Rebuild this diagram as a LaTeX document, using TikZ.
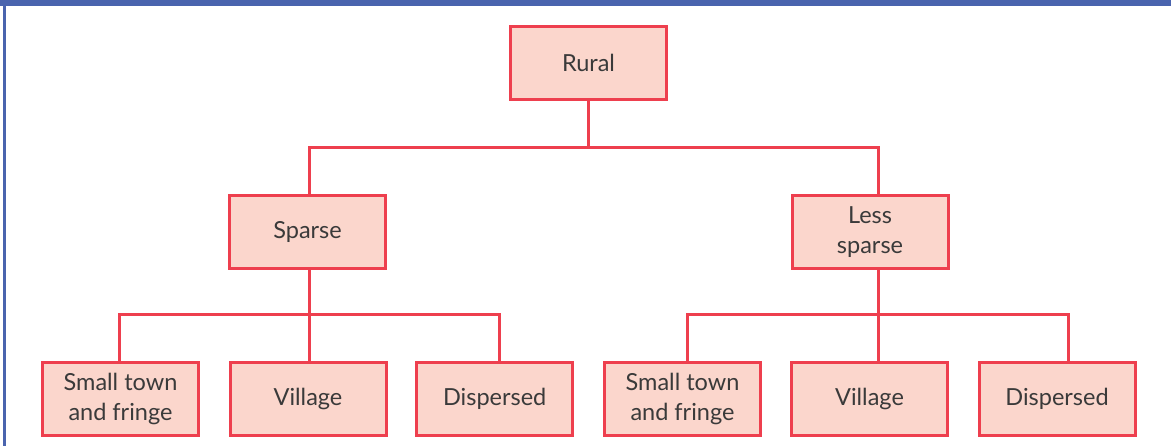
\documentclass[tikz,border=0pt]{standalone}
\usepackage{fontspec}
\usetikzlibrary{backgrounds}
\setmainfont{Lato}
\definecolor{boxfill}{HTML}{FBD6CC}
\definecolor{boxline}{HTML}{EE3F4E}
\definecolor{framebar}{HTML}{4A64AE}
\definecolor{textgrey}{HTML}{3A3A3A}
\begin{document}
\begin{tikzpicture}[x=1pt,y=-1pt,
  tierbox/.style={draw=boxline, fill=boxfill, line width=3pt, rectangle,
    minimum width=156pt, minimum height=73pt, inner sep=2pt, align=center,
    text=textgrey, font=\fontsize{23.5}{29.5}\selectfont},
  link/.style={draw=boxline, line width=3pt}]
  % page extent
  \useasboundingbox (0,0) rectangle (1171,446);
  % frame: blue bar on top, thin bar down the left side
  \fill[framebar] (0,0) rectangle (1171,6);
  \fill[framebar] (2.5,0) rectangle (5.5,446);

  % boxes
  \node[tierbox] (rural) at (588.5,63) {Rural};
  \node[tierbox] (sparse) at (307.5,232) {Sparse};
  \node[tierbox] (less) at (870,232) {Less\\sparse};

  \node[tierbox] (s1) at (120.5,399) {Small town\\and fringe};
  \node[tierbox] (s2) at (308,399) {Village};
  \node[tierbox] (s3) at (494.7,399) {Dispersed};
  \node[tierbox] (l1) at (682.5,399) {Small town\\and fringe};
  \node[tierbox] (l2) at (869.5,399) {Village};
  \node[tierbox] (l3) at (1057,399) {Dispersed};

  % junction points
  \coordinate (j0) at (588,148);
  \coordinate (jL) at (309,148);
  \coordinate (jR) at (878,148);
  \coordinate (k1) at (119,315);
  \coordinate (k2) at (309,315);
  \coordinate (k3) at (499,315);
  \coordinate (m1) at (687.5,315);
  \coordinate (m2) at (878,315);
  \coordinate (m3) at (1068.5,315);

  % connectors sit behind the boxes
  \begin{scope}[on background layer]
    % first level
    \draw[link] (j0 |- rural.south) -- (j0);
    \draw[link] (jL |- sparse.north) -- (jL) -- (jR) -- (jR |- less.north);

    % second level, left branch
    \draw[link] (k2 |- sparse.south) -- (k2);
    \draw[link] (k1 |- s1.north) -- (k1) -- (k3) -- (k3 |- s3.north);
    \draw[link] (k2) -- (k2 |- s2.north);

    % second level, right branch
    \draw[link] (m2 |- less.south) -- (m2);
    \draw[link] (m1 |- l1.north) -- (m1) -- (m3) -- (m3 |- l3.north);
    \draw[link] (m2) -- (m2 |- l2.north);
  \end{scope}
\end{tikzpicture}
\end{document}
